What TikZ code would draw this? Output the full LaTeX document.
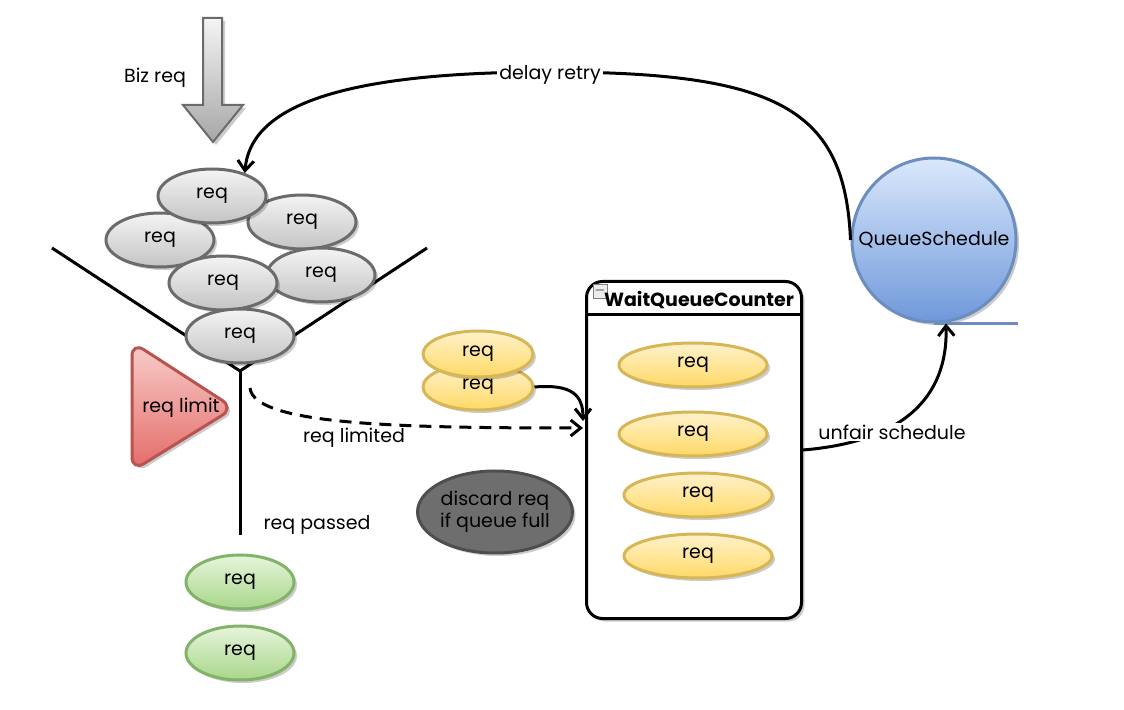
\documentclass[tikz,border=0pt]{standalone}
\usepackage{fontspec}
\setmainfont{Poppins}
\usetikzlibrary{shapes.geometric,shadows,arrows.meta,positioning}

\definecolor{grayedge}{HTML}{6B6B6B}
\definecolor{graytop}{HTML}{F4F4F4}
\definecolor{graybot}{HTML}{C4C4C4}
\definecolor{greenedge}{HTML}{82B366}
\definecolor{greentop}{HTML}{E6F5DC}
\definecolor{greenbot}{HTML}{A8D68A}
\definecolor{yellowedge}{HTML}{D6B656}
\definecolor{yellowtop}{HTML}{FFF2CC}
\definecolor{yellowbot}{HTML}{FFD966}
\definecolor{rededge}{HTML}{B85450}
\definecolor{redtop}{HTML}{F8CECC}
\definecolor{redbot}{HTML}{E46A66}
\definecolor{blueedge}{HTML}{6C8EBF}
\definecolor{bluetop}{HTML}{DAE8FC}
\definecolor{bluebot}{HTML}{6F98DA}
\definecolor{discardfill}{HTML}{6E6E6E}
\definecolor{discardedge}{HTML}{4E4E4E}

\tikzset{
  every node/.style={font=\fontsize{9.5}{11}\selectfont},
  softshadow/.style={drop shadow={shadow xshift=1.5pt, shadow yshift=-1.5pt, fill=black, opacity=0.2}},
  reqgray/.style={ellipse, draw=grayedge, line width=1.5pt, top color=graytop, bottom color=graybot,
    minimum width=54pt, minimum height=27pt, softshadow},
  reqgreen/.style={ellipse, draw=greenedge, line width=1.5pt, top color=greentop, bottom color=greenbot,
    minimum width=54pt, minimum height=27pt, softshadow},
  reqyellow/.style={ellipse, draw=yellowedge, line width=1.5pt, top color=yellowtop, bottom color=yellowbot,
    minimum width=55pt, minimum height=23pt, softshadow},
  queued/.style={reqyellow, minimum width=74pt, minimum height=22pt},
  flow/.style={line width=1.5pt, -{Straight Barb[length=5pt,width=8pt]}},
}

\begin{document}
\begin{tikzpicture}[x=0.5pt, y=-0.5pt]
  \useasboundingbox[fill=white] (0,0) rectangle (1124,710);

  % incoming requests
  \draw[grayedge, line width=1pt, top color=graytop, bottom color=graybot!85!black, softshadow]
    (203,18) -- (222,18) -- (222,105) -- (243,105) -- (213,142) -- (183,105) -- (203,105) -- cycle;
  \node (bizreq) at (155,78) {Biz req};

  % funnel
  \coordinate (funnelL) at (52,248);
  \coordinate (funnelR) at (427,248);
  \coordinate (funneltip) at (240,371);
  \coordinate (passend) at (240,535);
  \draw[line width=1.5pt] (funnelL) -- (funneltip) -- (funnelR);
  \draw[line width=1.5pt] (funneltip) -- (passend);

  \node[reqgray] (req3) at (302,222) {req};
  \node[reqgray] (req5) at (321,275) {req};
  \node[reqgray] (req2) at (160,240) {req};
  \node[reqgray] (req1) at (212,196) {req};
  \node[reqgray] (req4) at (223,283) {req};
  \node[reqgray] (req6) at (240,336) {req};

  % limiter
  \draw[rededge, line width=1.5pt, rounded corners=7pt, top color=redtop, bottom color=redbot, softshadow]
    (132,342) -- (234,408) -- (132,471) -- cycle;
  \node (limit) at (181,408) {req limit};

  \node (passed) at (317,525) {req passed};
  \node[reqgreen] (ok1) at (240,582) {req};
  \node[reqgreen] (ok2) at (240,653) {req};

  % waiting requests
  \node[reqyellow] (wait2) at (478,387) {req};
  \node[reqyellow] (wait1) at (478,354) {req};
  \node[ellipse, draw=discardedge, line width=1.5pt, fill=discardfill, minimum width=72pt, minimum height=41pt,
    align=center, inner sep=0pt, softshadow] (discard) at (495,512) {discard req\\if queue full};

  % wait queue counter
  \node[draw, line width=1.5pt, rounded corners=8pt, minimum width=107.5pt, minimum height=168.5pt,
    anchor=north west, softshadow, fill=white] (wqc) at (585,280) {};
  \draw[line width=1.5pt] ([yshift=-17.5pt]wqc.north west) -- ([yshift=-17.5pt]wqc.north east);
  \node[draw=gray, fill=gray!15, minimum size=7pt, inner sep=0pt, font=\fontsize{6}{6}\selectfont] (fold) at (600,291) {$-$};
  \node[font=\fontsize{9.5}{11}\selectfont\bfseries] (wqctitle) at (699,300) {WaitQueueCounter};
  \node[queued] (q1) at (693,365) {req};
  \node[queued] (q2) at (693,434) {req};
  \node[queued] (q3) at (698,495) {req};
  \node[queued] (q4) at (698,556) {req};

  \coordinate (wqcwait) at (583,421);
  \coordinate (wqclimit) at (583,428);
  \coordinate (limitstart) at (250,388);

  % scheduler
  \node[circle, draw=blueedge, line width=1.5pt, top color=bluetop, bottom color=bluebot,
    minimum size=82pt, inner sep=0pt, softshadow] (sched) at (934,240) {QueueSchedule};
  \draw[blueedge, line width=1.5pt] (sched.south) -- ([xshift=42pt]sched.south);

  % connectors
  \draw[flow, dash pattern=on 6pt off 4pt] (limitstart) .. controls (254,425) and (400,428) .. (wqclimit);
  \node (limited) at (354,438) {req limited};
  \draw[flow] (wait2.east) .. controls (572,384) and (583,395) .. (wqcwait);
  \draw[flow] (wqc.east) .. controls (900,442) and (948,400) .. ([xshift=6pt]sched.south);
  \node[fill=white, inner sep=1pt] (unfair) at (892,432) {unfair schedule};
  \draw[flow] (sched.west) .. controls (845,110) and (780,72) .. (550,72)
    .. controls (330,72) and (250,110) .. (req1.35);
  \node[fill=white, inner sep=1pt] (retry) at (550,75) {delay retry};
\end{tikzpicture}
\end{document}
